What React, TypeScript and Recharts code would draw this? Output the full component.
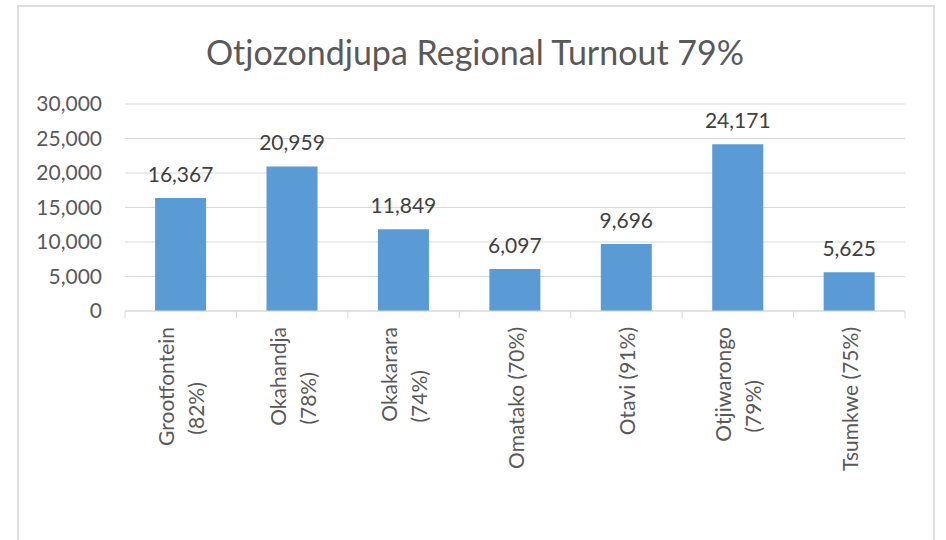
import React from 'react';
import { BarChart, Bar, XAxis, YAxis, CartesianGrid, LabelList } from 'recharts';

// Constituencies, turnout % and total votes cast
const constituencies = ['Grootfontein', 'Okahandja', 'Okakarara', 'Omatako', 'Otavi', 'Otjiwarongo', 'Tsumkwe'];
const turnout = [82, 78, 74, 70, 91, 79, 75];
const votes = [16367, 20959, 11849, 6097, 9696, 24171, 5625];
const yTicks = [0, 5000, 10000, 15000, 20000, 25000, 30000];

const data = constituencies.map((name, i) => ({
  name,
  label: `${name} (${turnout[i]}%)`,
  votes: votes[i],
}));

const W = 946;
const H = 540;
const MARGIN = { top: 104, right: 41, left: 0, bottom: 0 };
const Y_W = 125;
const X_H = 229;
const BAND = (W - MARGIN.left - Y_W - MARGIN.right) / constituencies.length;
const FONT = 'Lato, "Open Sans", sans-serif';
const GRID = '#d9d9d9';

const fmt = (v: number) => v.toLocaleString('en-US');

let ctx: CanvasRenderingContext2D | null = null;
const measure = (s: string) => {
  if (!ctx) {
    ctx = document.createElement('canvas').getContext('2d');
    if (ctx) ctx.font = `21px ${FONT}`;
  }
  return ctx ? ctx.measureText(s).width : s.length * 10;
};

const XTick = (props: any) => {
  const { x, y, payload, index } = props;
  const name = constituencies[index] ?? payload.value;
  const pct = `(${turnout[index]}%)`;
  const wrap = name.length > 8;
  const top = y + 16;
  const common = { fontSize: 21, fill: '#595959', fontFamily: FONT, dominantBaseline: 'central' as const };
  return (
    <g>
      <line x1={x - BAND / 2} x2={x - BAND / 2} y1={y} y2={y + 7} stroke={GRID} />
      {index === constituencies.length - 1 && (
        <line x1={x + BAND / 2} x2={x + BAND / 2} y1={y} y2={y + 7} stroke={GRID} />
      )}
      {wrap ? (
        <>
          <text {...common} textAnchor="end" transform={`translate(${x - 15},${top}) rotate(-90)`}>
            {name}
          </text>
          <text
            {...common}
            textAnchor="middle"
            transform={`translate(${x + 15},${top + measure(name) / 2 + 22}) rotate(-90)`}
          >
            {pct}
          </text>
        </>
      ) : (
        <text {...common} textAnchor="end" transform={`translate(${x},${top}) rotate(-90)`}>
          {`${name} ${pct}`}
        </text>
      )}
    </g>
  );
};

const App = () => (
  <div style={{ position: 'absolute', left: 0, top: 0, width: W, height: H, background: '#fff', overflow: 'hidden' }}>
    <div
      style={{
        position: 'absolute',
        left: 17,
        top: 5,
        width: 914,
        height: 560,
        border: '2px solid #dedede',
      }}
    />
    <BarChart width={W} height={H} data={data} margin={MARGIN} barCategoryGap="27%">
      <CartesianGrid vertical={false} stroke={GRID} />
      <XAxis
        dataKey="label"
        height={X_H}
        interval={0}
        axisLine={{ stroke: GRID }}
        tickLine={false}
        tickSize={0}
        tickMargin={0}
        tick={<XTick />}
      />
      <YAxis
        width={Y_W}
        domain={[0, 30000]}
        ticks={yTicks}
        axisLine={false}
        tickLine={false}
        tickSize={0}
        tickMargin={23}
        tickFormatter={fmt}
        tick={{ fontSize: 21, fill: '#595959', fontFamily: FONT }}
      />
      <Bar dataKey="votes" fill="#5b9bd5" isAnimationActive={false}>
        <LabelList
          dataKey="votes"
          position="top"
          offset={16}
          formatter={(v: any) => fmt(Number(v))}
          style={{ fontSize: 21, fill: '#404040', fontFamily: FONT }}
        />
      </Bar>
    </BarChart>
    <svg width={W} height={H} style={{ position: 'absolute', left: 0, top: 0, pointerEvents: 'none' }}>
      <text x={475} y={65} textAnchor="middle" fontSize={34} fill="#595959" fontFamily={FONT}>
        Otjozondjupa Regional Turnout 79%
      </text>
    </svg>
  </div>
);

export default App;
